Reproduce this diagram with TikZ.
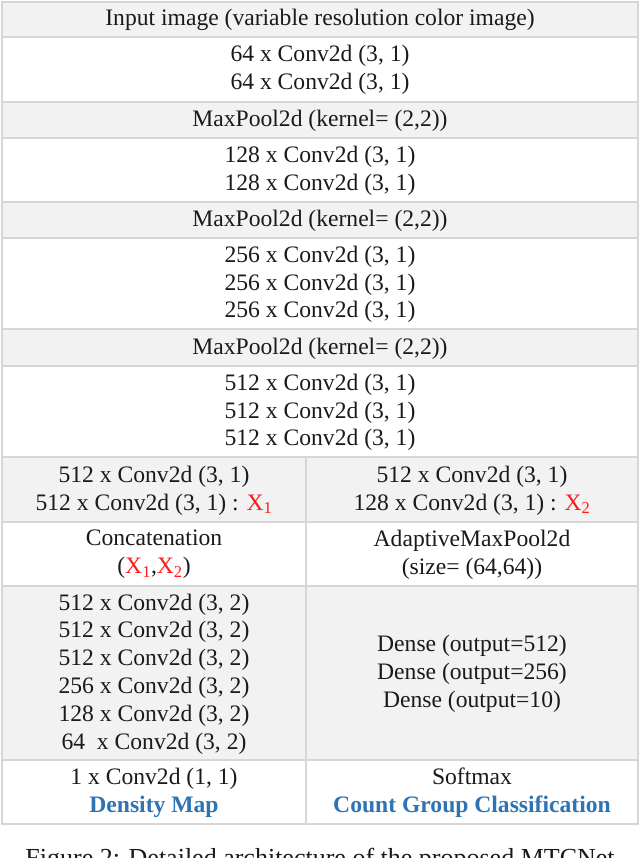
\documentclass[tikz,border=0pt]{standalone}
\usepackage{fontspec}
\setmainfont{Liberation Serif}
\definecolor{gridc}{HTML}{D6D6D6}
\definecolor{shade}{HTML}{F2F2F2}
\definecolor{txt}{HTML}{1A1A1A}
\definecolor{blueT}{HTML}{2E74B5}
\definecolor{redT}{HTML}{FF1A1A}
\newcommand{\xa}{{\color{redT}X\textsubscript{1}}}
\newcommand{\xb}{{\color{redT}X\textsubscript{2}}}
\begin{document}
\begin{tikzpicture}[x=1pt,y=-1pt,
  cell/.style={align=center,text=txt,font=\fontsize{23.6}{27.8}\selectfont,inner sep=0pt},
  gline/.style={draw=gridc,line width=2pt},
  shadebox/.style={fill=shade}]
\useasboundingbox (0,0) rectangle (640,858);
\clip (0,0) rectangle (640,858);
\fill[white] (0,0) rectangle (640,858);
% shaded rows
\foreach \a/\b in {2/37,102/138,202/238,329/366,457/522,586/760}
  \fill[shadebox] (2,\a) rectangle (638,\b);
% horizontal lines
\foreach \y in {37,102,138,202,238,329,366,457,522,586,760}
  \draw[gline] (2,\y) -- (638,\y);
% vertical divider
\draw[gline] (306,457) -- (306,824);
% outer frame
\draw[gline] (2,2) rectangle (638,824);
% texts
\node[cell] (r1) at (320,20) {Input image (variable resolution color image)};
\node[cell] (r2) at (320,70) {64 x Conv2d (3, 1)\\64 x Conv2d (3, 1)};
\node[cell] (r3) at (320,120.5) {MaxPool2d (kernel= (2,2))};
\node[cell] (r4) at (320,170.5) {128 x Conv2d (3, 1)\\128 x Conv2d (3, 1)};
\node[cell] (r5) at (320,220.5) {MaxPool2d (kernel= (2,2))};
\node[cell] (r6) at (320,284.5) {256 x Conv2d (3, 1)\\256 x Conv2d (3, 1)\\256 x Conv2d (3, 1)};
\node[cell] (r7) at (320,348.5) {MaxPool2d (kernel= (2,2))};
\node[cell] (r8) at (320,412.5) {512 x Conv2d (3, 1)\\512 x Conv2d (3, 1)\\512 x Conv2d (3, 1)};
\node[cell] (l9) at (154,490.5) {512 x Conv2d (3, 1)\\512 x Conv2d (3, 1) : \xa};
\node[cell] (r9) at (472,490.5) {512 x Conv2d (3, 1)\\128 x Conv2d (3, 1) : \xb};
\node[cell] (l10) at (154,554.5) {Concatenation\\(\xa,\xb)};
\node[cell] (r10) at (472,554.5) {AdaptiveMaxPool2d\\(size= (64,64))};
\node[cell] (l11) at (154,674) {512 x Conv2d (3, 2)\\512 x Conv2d (3, 2)\\512 x Conv2d (3, 2)\\256 x Conv2d (3, 2)\\128 x Conv2d (3, 2)\\64\ \ x Conv2d (3, 2)};
\node[cell] (r11) at (472,674) {Dense (output=512)\\Dense (output=256)\\Dense (output=10)};
\node[cell] (l12) at (154,793) {1 x Conv2d (1, 1)\\{\color{blueT}\bfseries Density Map}};
\node[cell] (r12) at (472,793) {Softmax\\{\color{blueT}\bfseries Count Group Classification}};
\node[cell,anchor=base,font=\fontsize{26}{30}\selectfont] (cap) at (320,866) {Figure 2: Detailed architecture of the proposed MTCNet};
\end{tikzpicture}
\end{document}
